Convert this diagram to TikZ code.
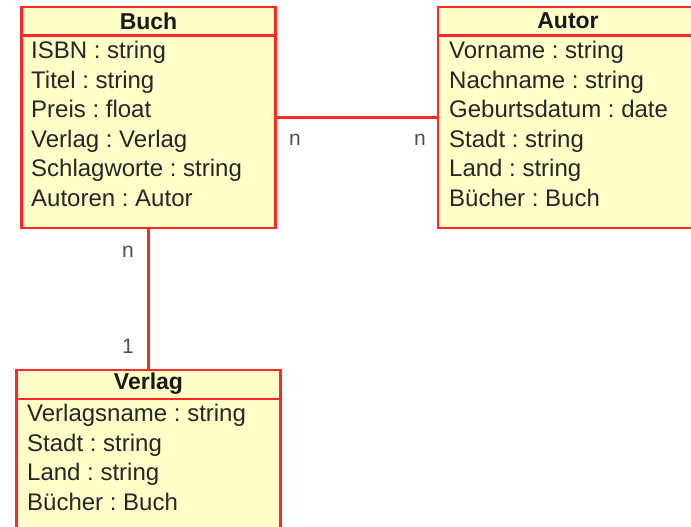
\documentclass[tikz,border=0pt]{standalone}
\usepackage{fontspec}
\setmainfont{Liberation Sans}
\frenchspacing
\definecolor{umlrot}{RGB}{255,40,40}
\definecolor{umlgelb}{RGB}{255,255,200}
\definecolor{umlgrau}{RGB}{80,80,80}
\tikzset{
  klasse/.style={draw=umlrot, line width=2.5pt, fill=umlgelb, inner sep=0pt},
  kopf/.style={inner sep=0pt, font=\fontsize{23}{27}\selectfont\bfseries, text=black!90},
  attr/.style={anchor=base west, inner sep=0pt, font=\fontsize{24}{27}\selectfont, text=black!85},
  mult/.style={inner sep=0pt, font=\fontsize{21}{24}\selectfont, text=umlgrau},
  rel/.style={draw=umlrot, line width=2.5pt}
}

\begin{document}
\begin{tikzpicture}[x=1pt,y=-1pt]
    \clip (0,0) rectangle (691,527);
    \fill[white] (0,0) rectangle (691,527);

    % Klassen
    \node[klasse, minimum width=254pt, minimum height=221pt] (buch) at (148.5,117.5) {};
    \node[klasse, minimum width=260pt, minimum height=221pt] (autor) at (568,117.5) {};
    \node[klasse, minimum width=264pt, minimum height=180pt] (verlag) at (148.5,460) {};

    % Trennlinien unter den Namen
    \draw[rel] (buch.north west) ++(0,30) -- ++(254,0);
    \draw[rel] (autor.north west) ++(0,30) -- ++(260,0);
    \draw[rel] (verlag.north west) ++(0,30) -- ++(264,0);

    \node[kopf] (buchkopf) at (148.5,21) {Buch};
    \node[kopf] (autorkopf) at (568,21) {Autor};
    \node[kopf] (verlagkopf) at (148.5,384) {Verlag};

    % Attribute
    \foreach \t [count=\i] in {ISBN : string, Titel : string, Preis : float,
        Verlag : Verlag, Schlagworte : string, Autoren : Autor} {
        \node[attr] (buch\i) at (31,28.9+29.6*\i) {\t};
    }
    \foreach \t [count=\i] in {Vorname : string, Nachname : string,
        Geburtsdatum : date, Stadt : string, Land : string, Bücher : Buch} {
        \node[attr] (autor\i) at (449,28.9+29.6*\i) {\t};
    }
    \foreach \t [count=\i] in {Verlagsname : string, Stadt : string,
        Land : string, Bücher : Buch} {
        \node[attr] (verlag\i) at (27,391.9+29.6*\i) {\t};
    }

    % Beziehungen
    \draw[rel] (buch) -- (autor);
    \draw[rel] (buch.south) -- (verlag.north);

    \node[mult] (nbuch) at (295,140) {n};
    \node[mult] (nautor) at (420,140) {n};
    \node[mult] (nunten) at (128,252) {n};
    \node[mult] (eins) at (128,346) {1};
\end{tikzpicture}
\end{document}
